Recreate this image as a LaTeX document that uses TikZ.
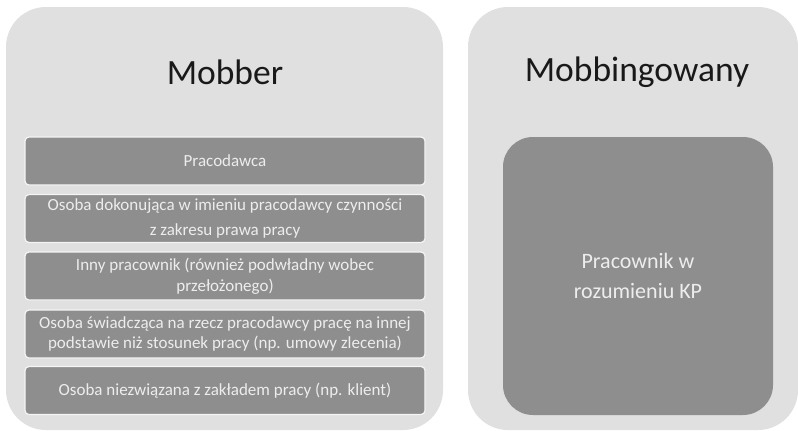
\documentclass[tikz,border=0pt]{standalone}
\usepackage{fontspec}
\setmainfont{Carlito}
\usetikzlibrary{positioning}

\definecolor{panelgray}{HTML}{E0E0E0}
\definecolor{itemgray}{HTML}{8E8E8E}
\definecolor{itemtext}{HTML}{EDEDED}

\begin{document}
\begin{tikzpicture}[x=1pt, y=-1pt,
	panel/.style={fill=panelgray, rounded corners=40pt, inner sep=0pt},
	item/.style={fill=itemgray, draw=white!92!gray, line width=1.2pt,
		rounded corners=4pt, minimum width=400pt, minimum height=48pt,
		inner sep=0pt, align=center, text=itemtext,
		font=\fontsize{17}{20.5}\selectfont},
	title/.style={text=black!90, font=\fontsize{35.5}{40}\selectfont}]

	\useasboundingbox (0,0) rectangle (798,431);
	\fill[white] (0,0) rectangle (798,431);

	% two panels
	\node[panel, minimum width=437pt, minimum height=423pt] (mobber)
		at (224.5,218.5) {};
	\node[panel, minimum width=330pt, minimum height=423pt] (mobbed)
		at (633,218.5) {};

	\node[title] (mobbertitle) at (225,72) {Mobber};
	\node[title] (mobbedtitle) at (637,72) {Mobbingowany};

	% list on the left
	\node[item] (employer) at (225,161) {Pracodawca};
	\node[item] (proxy)    at (225,218.5)
		{Osoba dokonująca w imieniu pracodawcy czynności\\[5pt]
		 z zakresu prawa pracy};
	\node[item] (coworker) at (225,276)
		{Inny pracownik (również podwładny wobec\\przełożonego)};
	\node[item] (contract) at (225,334)
		{Osoba świadcząca na rzecz pracodawcy pracę na innej\\
		 podstawie niż stosunek pracy (np. umowy zlecenia)};
	\node[item] (outsider) at (225,390.5)
		{Osoba niezwiązana z zakładem pracy (np. klient)};

	% box on the right
	\node[item, rounded corners=30pt, minimum width=270pt,
		minimum height=278pt, draw=none,
		font=\fontsize{22}{30}\selectfont] (worker) at (638,276)
		{Pracownik w\\rozumieniu KP};
\end{tikzpicture}
\end{document}
